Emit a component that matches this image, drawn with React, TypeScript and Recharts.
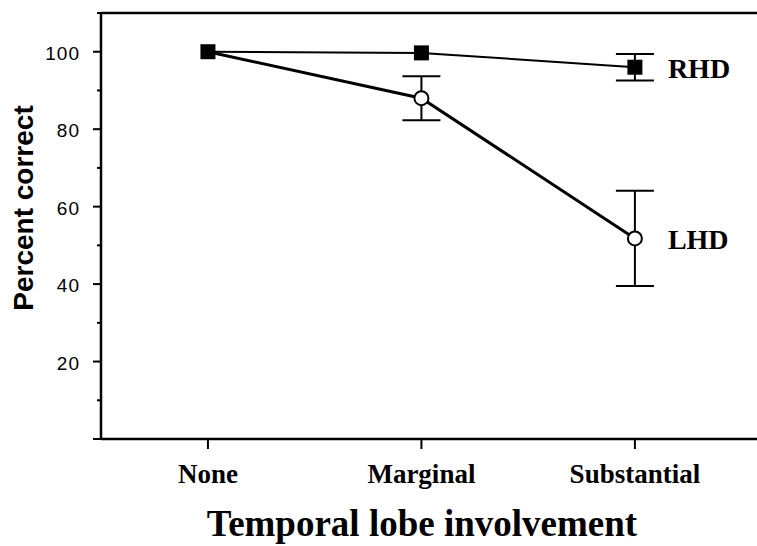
import React from 'react';
import { LineChart, Line, XAxis, YAxis, ErrorBar, ReferenceLine, LabelList, Label } from 'recharts';

const categories = ['None', 'Marginal', 'Substantial'];
const seriesNames = ['RHD', 'LHD'];
const rhdValues = [100, 99.7, 96];
const rhdErrors: (number | null)[] = [null, null, 3.4];
const lhdValues = [100, 88, 51.8];
const lhdErrors: (number | null)[] = [null, 5.7, 12.3];
const yTicks = [0, 10, 20, 30, 40, 50, 60, 70, 80, 90, 100, 110];
const yLabelTicks = [20, 40, 60, 80, 100];
const yMajorTicks = [0, 20, 40, 60, 80, 100];
const yAxisTitle = 'Percent correct';
const xAxisTitle = 'Temporal lobe involvement';

const data = categories.map((c, i) => ({
  x: i,
  name: c,
  rhd: rhdValues[i],
  rhdErr: rhdErrors[i],
  lhd: lhdValues[i],
  lhdErr: lhdErrors[i],
}));

const SANS = "'Liberation Sans', Arial, Helvetica, sans-serif";
const SERIF = "'Liberation Serif', 'Times New Roman', Times, serif";

const YTick = (props: any) => {
  const { x, y, payload } = props;
  const v = payload.value;
  const len = yMajorTicks.includes(v) ? 8 : 4;
  return (
    <g>
      <line x1={x - len} x2={x} y1={y} y2={y} stroke="#000" strokeWidth={2} />
      {yLabelTicks.includes(v) && (
        <text x={x - 21} y={y + 8} textAnchor="end" fontFamily={SANS} fontSize={19} letterSpacing={1} fill="#000">
          {v}
        </text>
      )}
    </g>
  );
};

const XTick = (props: any) => {
  const { x, y, payload } = props;
  return (
    <g>
      <line x1={x} x2={x} y1={y} y2={y + 10} stroke="#000" strokeWidth={2} />
      <text x={x} y={y + 44} textAnchor="middle" fontFamily={SERIF} fontWeight="bold" fontSize={27} fill="#000">
        {categories[payload.value]}
      </text>
    </g>
  );
};

const SquareDot = (props: any) => {
  const { cx, cy, index } = props;
  if (cx == null || cy == null) return <g key={`s${index}`} />;
  return <rect key={`s${index}`} x={cx - 7.5} y={cy - 7.5} width={15} height={15} fill="#000" />;
};

const CircleDot = (props: any) => {
  const { cx, cy, index } = props;
  if (index === 0 || cx == null || cy == null) return <g key={`c${index}`} />;
  return <circle key={`c${index}`} cx={cx} cy={cy} r={7} fill="#fff" stroke="#000" strokeWidth={2} />;
};

const nameLabel = (name: string) => (props: any) => {
  const { x, y, index } = props;
  if (index !== categories.length - 1) return null;
  return (
    <text x={x + 33} y={y + 11} fontFamily={SERIF} fontWeight="bold" fontSize={28} fill="#000">
      {name}
    </text>
  );
};

export default function App() {
  return (
    <div style={{ position: 'fixed', left: 0, top: 0, width: 757, height: 546, background: '#fff' }}>
      <LineChart width={757} height={546} data={data} margin={{ top: 13, right: 0, bottom: 0, left: 0 }}>
        <XAxis
          dataKey="x"
          type="number"
          domain={[-0.501, 2.572]}
          ticks={[0, 1, 2]}
          allowDataOverflow
          height={107}
          axisLine={{ stroke: '#000', strokeWidth: 2.5 }}
          tickLine={false}
          tickSize={0}
          tickMargin={0}
          tick={XTick}
          interval={0}
        >
          <Label
            content={(p: any) => {
              const vb = p.viewBox || { x: 101, width: 656 };
              return (
                <text x={vb.x + vb.width / 2 - 7} y={536} textAnchor="middle" fontFamily={SERIF} fontWeight="bold" fontSize={37} fill="#000">
                  {xAxisTitle}
                </text>
              );
            }}
          />
        </XAxis>
        <YAxis
          type="number"
          domain={[0, 110]}
          ticks={yTicks}
          allowDataOverflow
          width={101}
          axisLine={{ stroke: '#000', strokeWidth: 2.5 }}
          tickLine={false}
          tickSize={0}
          tickMargin={0}
          tick={YTick}
          interval={0}
        >
          <Label
            content={() => (
              <text x={33} y={208} transform="rotate(-90, 33, 208)" textAnchor="middle" fontFamily={SANS} fontWeight="bold" fontSize={28} fill="#000">
                {yAxisTitle}
              </text>
            )}
          />
        </YAxis>
        <ReferenceLine y={110} stroke="#000" strokeWidth={2.5} />
        <Line
          dataKey="lhd"
          name={seriesNames[1]}
          stroke="#000"
          strokeWidth={3}
          dot={CircleDot}
          activeDot={false}
          isAnimationActive={false}
        >
          <ErrorBar dataKey="lhdErr" direction="y" width={19} strokeWidth={2} stroke="#000" />
          <LabelList dataKey="lhd" content={nameLabel(seriesNames[1])} />
        </Line>
        <Line
          dataKey="rhd"
          name={seriesNames[0]}
          stroke="#000"
          strokeWidth={2}
          dot={SquareDot}
          activeDot={false}
          isAnimationActive={false}
        >
          <ErrorBar dataKey="rhdErr" direction="y" width={19} strokeWidth={2} stroke="#000" />
          <LabelList dataKey="rhd" content={nameLabel(seriesNames[0])} />
        </Line>
      </LineChart>
    </div>
  );
}
